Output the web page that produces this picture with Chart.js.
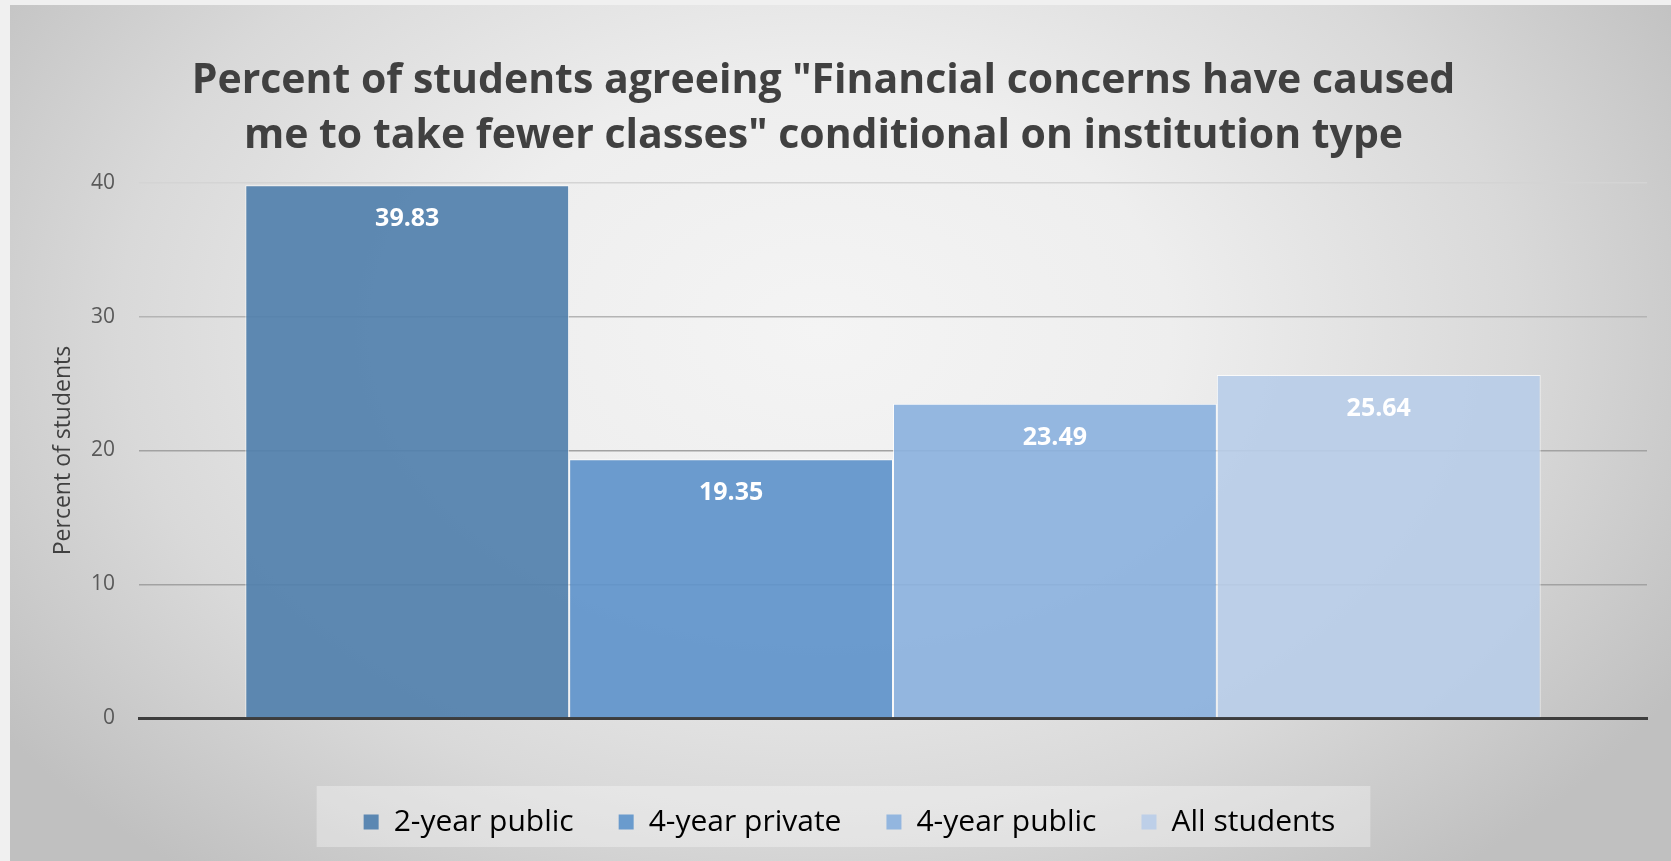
<!DOCTYPE html>
<html>
<head>
<meta charset="utf-8">
<title>Financial concerns and course load</title>
<script src="https://cdn.jsdelivr.net/npm/chart.js@4.4.1/dist/chart.umd.min.js"></script>
<style>
  html, body { margin: 0; padding: 0; background: #efefef; }
  #wrap { width: 1671px; height: 861px; }
</style>
</head>
<body>
<div id="wrap"><canvas id="chart" width="1671" height="861"></canvas></div>
<script>
// survey results, one bar per institution type
const groups = ['2-year public', '4-year private', '4-year public', 'All students'];
const percents = [39.83, 19.35, 23.49, 25.64];
const barColors = ['rgba(81,128,173,0.92)', 'rgba(95,148,203,0.92)', 'rgba(140,178,222,0.92)', 'rgba(185,205,232,0.92)'];
const legendColors = ['#5b87b2', '#6a9bcd', '#93b6df', '#bdcfe8'];
const yTicks = [0, 10, 20, 30, 40];

const titleLines = [
    'Percent of students agreeing "Financial concerns have caused',
    'me to take fewer classes" conditional on institution type'
];

const FONT = '"Open Sans", "DejaVu Sans", sans-serif';

// grey radial backdrop plus the pale strip behind the legend
const backdrop = {
    id: 'backdrop',
    beforeDraw(chart) {
        const ctx = chart.ctx;
        const w = chart.width, h = chart.height;
        ctx.save();
        ctx.fillStyle = '#f0f0f0';
        ctx.fillRect(0, 0, w, h);
        ctx.beginPath();
        ctx.rect(10, 5, w - 10, h - 5);
        ctx.clip();
        ctx.translate(820, 330);
        ctx.scale(1, 0.7);
        const g = ctx.createRadialGradient(0, 0, 0, 0, 0, 1000);
        g.addColorStop(0, '#f4f4f4');
        g.addColorStop(0.35, '#eeeeee');
        g.addColorStop(0.7, '#d9d9d9');
        g.addColorStop(1, '#c0c0c0');
        ctx.fillStyle = g;
        ctx.fillRect(-820, -330 / 0.7, w, h / 0.7);
        ctx.restore();

        const lg = chart.legend;
        if (lg && lg.legendHitBoxes.length) {
            const boxes = lg.legendHitBoxes;
            const first = boxes[0];
            const last = boxes[boxes.length - 1];
            ctx.save();
            ctx.fillStyle = 'rgba(255,255,255,0.32)';
            ctx.fillRect(first.left - 47, lg.top + 24, last.left + last.width - first.left + 82, lg.bottom - lg.top - 24);
            ctx.restore();
        }
    },
    afterLayout(chart) {
        // nudge the legend row a little to the right of the title's centre
        chart.legend.left += 26;
        chart.legend.right += 26;
    }
};

// white value labels just inside the top of each bar
const valueLabels = {
    id: 'valueLabels',
    afterDatasetsDraw(chart) {
        const ctx = chart.ctx;
        ctx.save();
        ctx.fillStyle = '#ffffff';
        ctx.font = 'bold 25px ' + FONT;
        ctx.textAlign = 'center';
        ctx.textBaseline = 'middle';
        chart.data.datasets.forEach((ds, i) => {
            const bar = chart.getDatasetMeta(i).data[0];
            ctx.fillText(ds.data[0].toFixed(2), bar.x, bar.y + 34);
        });
        ctx.restore();
    }
};

chartInit();

async function chartInit(){
    await Promise.all([
        document.fonts.load('bold 41px "Open Sans"'),
        document.fonts.load('20px "Open Sans"')
    ]);

    const ctx = document.getElementById('chart').getContext('2d');
    const myChart = new Chart(ctx, {
        type: 'bar',
        data: {
            labels: [''],
            datasets: groups.map((g, i) => ({
                label: g,
                data: [percents[i]],
                backgroundColor: barColors[i],
                borderColor: 'rgba(255,255,255,0.75)',
                borderWidth: 1,
                categoryPercentage: 0.859,
                barPercentage: 1
            }))
        },
        plugins: [backdrop, valueLabels],
        options: {
            responsive: false,
            animation: false,
            devicePixelRatio: 1,
            layout: { padding: { left: 0, right: 24, top: 0, bottom: 14 } },
            plugins: {
                title: {
                    display: true,
                    text: titleLines,
                    color: '#404040',
                    font: { family: FONT, size: 41, weight: 'bold', lineHeight: 55 / 41 },
                    padding: { top: 54, bottom: 19 }
                },
                legend: {
                    position: 'bottom',
                    labels: {
                        color: '#595959',
                        font: { family: FONT, size: 30 },
                        boxWidth: 15,
                        boxHeight: 15,
                        padding: 45,
                        generateLabels: chart => chart.data.datasets.map((ds, i) => ({
                            text: ds.label,
                            fillStyle: legendColors[i],
                            strokeStyle: legendColors[i],
                            lineWidth: 0,
                            datasetIndex: i
                        }))
                    }
                },
                tooltip: { enabled: false }
            },
            scales: {
                x: {
                    z: 1,
                    ticks: { display: false },
                    grid: { display: false },
                    border: { display: true, color: '#3d3d3d', width: 3 },
                    afterFit: s => { s.height = 44; }
                },
                y: {
                    min: yTicks[0],
                    max: yTicks[yTicks.length - 1],
                    afterBuildTicks: s => { s.ticks = yTicks.map(v => ({ value: v })); },
                    ticks: {
                        color: '#595959',
                        font: { family: FONT, size: 21 },
                        padding: 24
                    },
                    grid: {
                        drawTicks: false,
                        lineWidth: 1.5,
                        color: c => c.tick.value >= 40 ? '#d4d4d4' : (c.tick.value >= 30 ? '#b4b4b4' : '#a2a2a2')
                    },
                    border: { display: false },
                    title: {
                        display: true,
                        text: 'Percent of students',
                        color: '#404040',
                        font: { family: FONT, size: 23, lineHeight: 1.2 },
                        padding: { top: 50, bottom: 0 }
                    },
                    afterFit: s => { s.width = 139; }
                }
            }
        }
    });
}
</script>
</body>
</html>
